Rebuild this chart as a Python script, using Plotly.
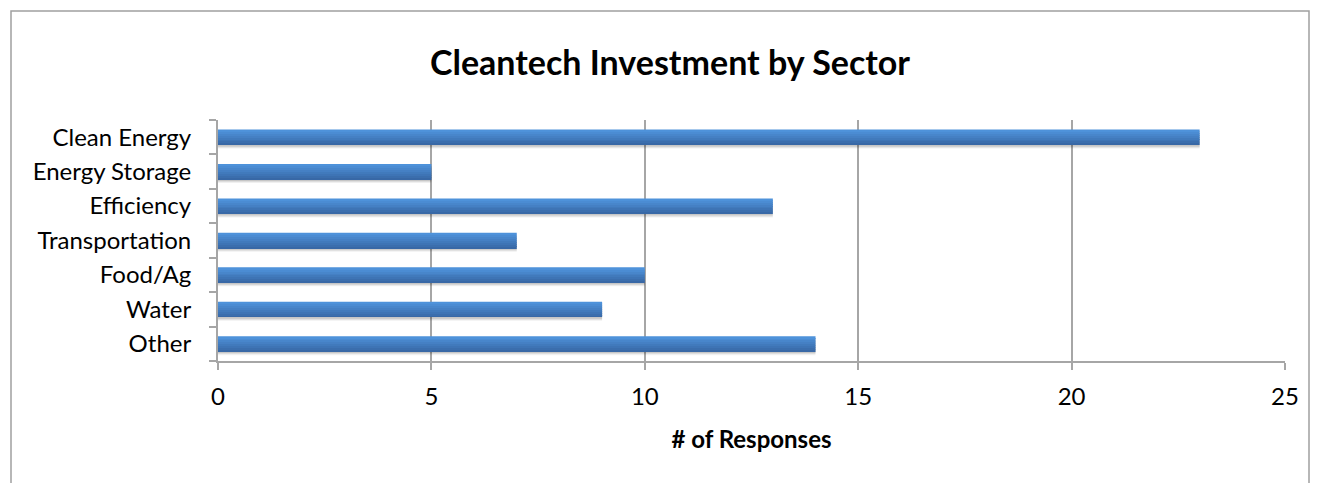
import plotly.graph_objects as go

# Sectors listed bottom-to-top so the first entry sits at the bottom of the axis
sectors = ["Other", "Water", "Food/Ag", "Transportation", "Efficiency",
           "Energy Storage", "Clean Energy"]
responses = [14, 9, 10, 7, 13, 5, 23]
x_ticks = [0, 5, 10, 15, 20, 25]

FONT = "Lato"
GRID = "#a6a6a6"

W, H = 1319, 483
L, R, T, B = 218, 34, 120, 122
pw, ph = W - L - R, H - T - B


def px_x(p):
    return (p - L) / pw


def px_y(p):
    return (H - B - p) / ph


fig = go.Figure()

bar_w = 0.44

# soft drop shadow under each bar
for dy, col in [(-0.11, "rgba(0,0,0,0.06)"), (-0.08, "rgba(0,0,0,0.08)"),
                (-0.05, "rgba(0,0,0,0.10)")]:
    fig.add_trace(go.Bar(
        y=sectors, x=responses, orientation="h",
        width=bar_w, offset=-bar_w / 2 + dy,
        marker=dict(color=col, line=dict(width=0)),
        hoverinfo="skip", showlegend=False,
    ))

# bar body drawn as stacked slices for a vertical shading gradient
dark = (56, 104, 166)
light = (78, 146, 218)
n = 8
for i in range(n):
    t = i / (n - 1)
    c = tuple(round(dark[k] + (light[k] - dark[k]) * t) for k in range(3))
    fig.add_trace(go.Bar(
        y=sectors, x=responses, orientation="h",
        width=bar_w / n + 0.002, offset=-bar_w / 2 + i * bar_w / n,
        marker=dict(color="rgb(%d,%d,%d)" % c, line=dict(width=0)),
        hoverinfo="skip", showlegend=False,
    ))

# chart frame
fig.add_shape(type="rect", xref="paper", yref="paper",
              x0=px_x(11), x1=px_x(1309), y0=px_y(500), y1=px_y(11),
              line=dict(color="#a0a0a0", width=1.5), fillcolor="rgba(0,0,0,0)",
              layer="below")

fig.update_layout(
    width=W, height=H,
    margin=dict(l=L, r=R, t=T, b=B),
    paper_bgcolor="white", plot_bgcolor="white",
    barmode="overlay",
    font=dict(family=FONT, color="black", size=24),
    title=dict(text="<b>Cleantech Investment by Sector</b>",
               x=670 / W, xanchor="center", y=1 - 63 / H, yanchor="middle",
               font=dict(family=FONT, size=34, color="black")),
    xaxis=dict(
        range=[0, 25], tickvals=x_ticks, ticks="outside", ticklen=7,
        tickcolor=GRID, tickwidth=1.5,
        showgrid=True, gridcolor=GRID, gridwidth=1.5,
        showline=True, linecolor=GRID, linewidth=2, zeroline=False,
        tickfont=dict(size=24), ticklabelstandoff=6,
        title=dict(text="<b># of Responses</b>", font=dict(size=24), standoff=22),
    ),
    yaxis=dict(
        type="category", categoryorder="array", categoryarray=sectors,
        range=[-0.5, len(sectors) - 0.5],
        ticks="outside", tickson="boundaries", ticklen=7,
        tickcolor=GRID, tickwidth=1.5,
        showgrid=False, showline=True, linecolor=GRID, linewidth=2,
        tickfont=dict(size=24), ticklabelstandoff=20,
    ),
)

fig.write_html("out.html")
